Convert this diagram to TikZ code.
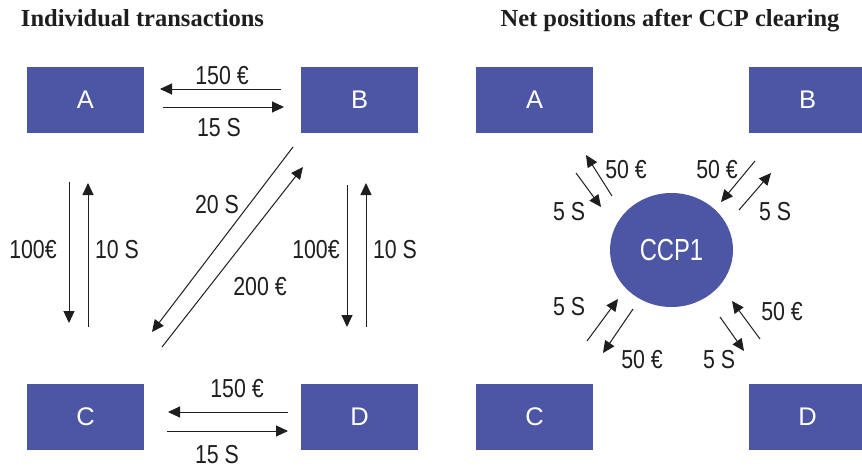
\documentclass[tikz,border=0pt]{standalone}
\usepackage{fontspec}
\usepackage{graphicx}
\setmainfont{Liberation Serif}
\newfontfamily\arialfont{Liberation Sans}
\usetikzlibrary{arrows.meta,shapes.geometric}
\definecolor{boxblue}{RGB}{76,86,165}
\definecolor{ink}{RGB}{30,30,30}
\newcommand{\narrowtxt}[1]{\scalebox{0.82}[1]{#1}}
\begin{document}
\begin{tikzpicture}[x=1pt,y=-1pt,
  party/.style={fill=boxblue, draw=none, minimum width=117pt, minimum height=66pt, inner sep=0pt, text=white, font=\arialfont\fontsize{25.5}{26}\selectfont},
  hub/.style={ellipse, fill=boxblue, draw=none, minimum width=123pt, minimum height=114pt, inner sep=0pt, text=white, font=\arialfont\fontsize{30.5}{31}\selectfont},
  flow/.style={draw=ink, line width=1pt, -{Triangle[length=12pt,width=11pt]}},
  amt/.style={text=ink, inner sep=0pt, font=\arialfont\fontsize{26}{26}\selectfont},
  heading/.style={text=ink, inner sep=0pt, anchor=base, font=\bfseries\fontsize{24.5}{25}\selectfont}]
\clip (0,0) rectangle (862,471);
\fill[white] (0,0) rectangle (862,471);

% titles
\node[heading] (t1) at (142.5,27) {Individual transactions};
\node[heading] (t2) at (670,27) {Net positions after CCP clearing};

% left panel parties
\node[party] (A) at (85.5,100) {A};
\node[party] (B) at (359.5,100) {B};
\node[party] (C) at (85.5,417) {C};
\node[party] (D) at (359.5,417) {D};

% right panel parties
\node[party] (A2) at (534.5,100) {A};
\node[party] (B2) at (807.5,100) {B};
\node[party] (C2) at (534.5,417) {C};
\node[party] (D2) at (807.5,417) {D};
\node[hub] (CCP) at (671.5,250) {\scalebox{0.78}[1]{CCP1}};

% left panel connector ends
\coordinate (ab1s) at (281,89);  \coordinate (ab1e) at (160,89);
\coordinate (ab2s) at (163,107); \coordinate (ab2e) at (284,107);
\coordinate (ac1s) at (69,182);  \coordinate (ac1e) at (69,323);
\coordinate (ac2s) at (88,327);  \coordinate (ac2e) at (88,183);
\coordinate (bc1s) at (293,147); \coordinate (bc1e) at (152,332);
\coordinate (bc2s) at (162,347); \coordinate (bc2e) at (303,167);
\coordinate (bd1s) at (347,185); \coordinate (bd1e) at (347,327);
\coordinate (bd2s) at (366,327); \coordinate (bd2e) at (366,183);
\coordinate (cd1s) at (288,412); \coordinate (cd1e) at (168,412);
\coordinate (cd2s) at (167,431); \coordinate (cd2e) at (288,431);

\draw[flow] (ab1s) -- (ab1e);
\draw[flow] (ab2s) -- (ab2e);
\draw[flow] (ac1s) -- (ac1e);
\draw[flow] (ac2s) -- (ac2e);
\draw[flow] (bc1s) -- (bc1e);
\draw[flow] (bc2s) -- (bc2e);
\draw[flow] (bd1s) -- (bd1e);
\draw[flow] (bd2s) -- (bd2e);
\draw[flow] (cd1s) -- (cd1e);
\draw[flow] (cd2s) -- (cd2e);

\node[amt] (l1) at (222,76) {\narrowtxt{150 €}};
\node[amt] (l2) at (219,128) {\narrowtxt{15 S}};
\node[amt] (l3) at (33,250) {\narrowtxt{100€}};
\node[amt] (l4) at (117,250) {\narrowtxt{10 S}};
\node[amt] (l5) at (217,205) {\narrowtxt{20 S}};
\node[amt] (l6) at (260,287) {\narrowtxt{200 €}};
\node[amt] (l7) at (316,250) {\narrowtxt{100€}};
\node[amt] (l8) at (395,250) {\narrowtxt{10 S}};
\node[amt] (l9) at (237,389) {\narrowtxt{150 €}};
\node[amt] (l10) at (217,455) {\narrowtxt{15 S}};

% right panel connector ends
\coordinate (ul1s) at (576,173); \coordinate (ul1e) at (601,207);
\coordinate (ul2s) at (612,196); \coordinate (ul2e) at (586,155);
\coordinate (ur1s) at (755,161); \coordinate (ur1e) at (721,202);
\coordinate (ur2s) at (739,210); \coordinate (ur2e) at (771,173);
\coordinate (ll1s) at (587,341); \coordinate (ll1e) at (618,299);
\coordinate (ll2s) at (633,309); \coordinate (ll2e) at (603,353);
\coordinate (lr1s) at (720,317); \coordinate (lr1e) at (744,351);
\coordinate (lr2s) at (760,339); \coordinate (lr2e) at (732,301);

\draw[flow] (ul1s) -- (ul1e);
\draw[flow] (ul2s) -- (ul2e);
\draw[flow] (ur1s) -- (ur1e);
\draw[flow] (ur2s) -- (ur2e);
\draw[flow] (ll1s) -- (ll1e);
\draw[flow] (ll2s) -- (ll2e);
\draw[flow] (lr1s) -- (lr1e);
\draw[flow] (lr2s) -- (lr2e);

\node[amt] (r1) at (626,170) {\narrowtxt{50 €}};
\node[amt] (r2) at (569,212) {\narrowtxt{5 S}};
\node[amt] (r3) at (717,170) {\narrowtxt{50 €}};
\node[amt] (r4) at (775,212) {\narrowtxt{5 S}};
\node[amt] (r5) at (569,307) {\narrowtxt{5 S}};
\node[amt] (r6) at (642,360) {\narrowtxt{50 €}};
\node[amt] (r7) at (782,312) {\narrowtxt{50 €}};
\node[amt] (r8) at (719,360) {\narrowtxt{5 S}};
\end{tikzpicture}
\end{document}
